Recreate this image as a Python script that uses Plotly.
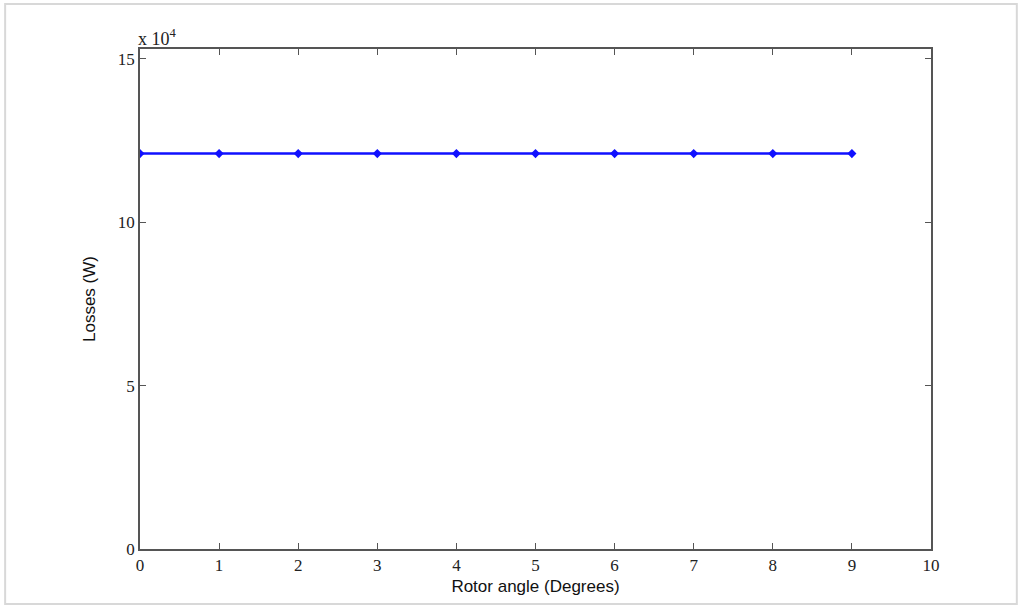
import plotly.graph_objects as go

rotor_angle = [0, 1, 2, 3, 4, 5, 6, 7, 8, 9]
losses_e4 = [12.1, 12.1, 12.1, 12.1, 12.1, 12.1, 12.1, 12.1, 12.1, 12.1]
x_ticks = [0, 1, 2, 3, 4, 5, 6, 7, 8, 9, 10]
y_ticks = [0, 5, 10, 15]

fig = go.Figure()
fig.add_trace(go.Scatter(
    x=rotor_angle, y=losses_e4, mode="lines+markers",
    line=dict(color="#1010ff", width=2.5),
    marker=dict(symbol="diamond", size=7, color="#1010ff"),
    showlegend=False,
))

tickfont = dict(family="Liberation Serif", size=17, color="#222")
axis_common = dict(
    showline=True, linecolor="#555", linewidth=1.5, mirror="ticks",
    ticks="inside", ticklen=6, tickcolor="#555", showgrid=False, zeroline=False,
    tickfont=tickfont,
)
fig.update_xaxes(range=[0, 10], tickvals=x_ticks, ticktext=[str(v) for v in x_ticks],
                 title=dict(text="Rotor angle (Degrees)", font=dict(family="Liberation Sans", size=17, color="#111"), standoff=6),
                 **axis_common)
fig.update_yaxes(range=[0, 15.3], tickvals=y_ticks, ticktext=[str(v) for v in y_ticks],
                 title=dict(text="Losses (W)", font=dict(family="Liberation Sans", size=17, color="#111"), standoff=18),
                 **axis_common)

fig.add_annotation(xref="paper", yref="paper", x=0, y=1, xanchor="left", yanchor="bottom",
                   xshift=-4, yshift=-2,
                   text="x 10<sup>4</sup>", showarrow=False,
                   font=dict(family="Liberation Serif", size=18, color="#222"))

fig.add_shape(type="rect", xref="paper", yref="paper", x0=-0.1705, x1=1.1085, y0=-0.11, y1=1.09,
              line=dict(color="#d8d8d8", width=2), fillcolor="rgba(0,0,0,0)", layer="below")

fig.update_layout(
    width=1019, height=611,
    margin=dict(l=140, r=88, t=49, b=62),
    paper_bgcolor="white", plot_bgcolor="white",
)
fig.write_html("out.html")
